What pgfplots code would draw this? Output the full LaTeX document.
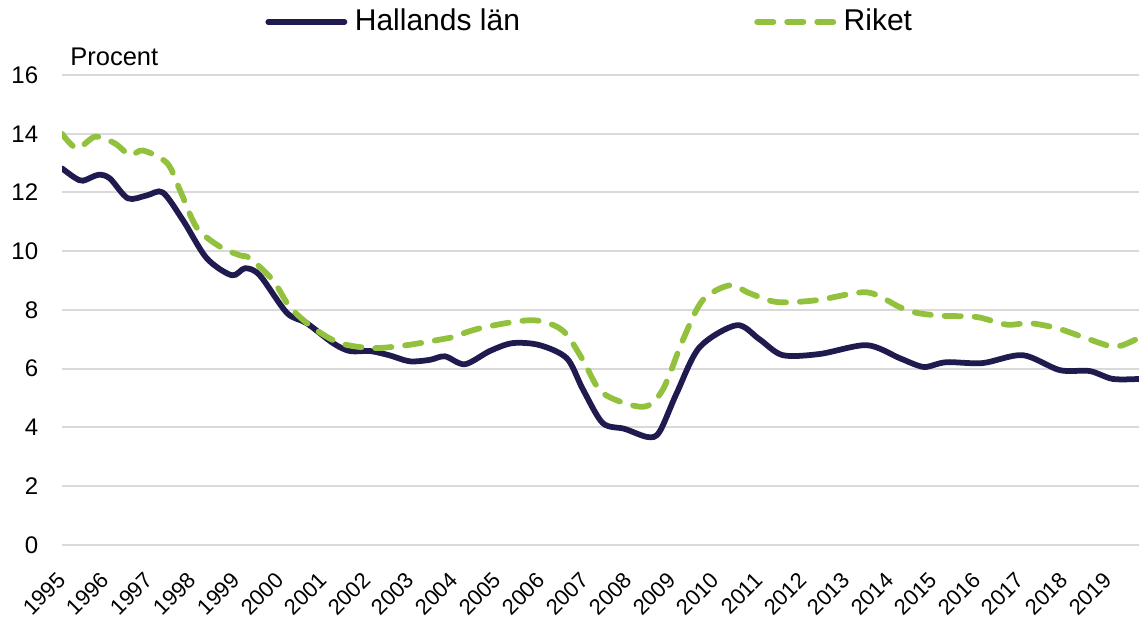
\documentclass[border=0pt]{standalone}
\usepackage{fontspec}
\setmainfont{Liberation Sans}
\usepackage{pgfplots}
\pgfplotsset{compat=1.18}
\definecolor{halland}{HTML}{1F1B4F}
\definecolor{riket}{HTML}{92C13E}
\definecolor{gridgray}{HTML}{D9D9D9}

\begin{document}
\begin{tikzpicture}
\begin{axis}[
  scale only axis,
  width=15.13cm,
  height=6.60cm,
  xmin=1995, xmax=2019.713,
  ymin=0, ymax=16,
  ytick={0,2,...,16},
  xtick={1995,...,2019},
  /pgf/number format/assume math mode=true,
  /pgf/number format/1000 sep={},
  xticklabel style={xshift=-2.4pt, yshift=-10.2pt, rotate=45, anchor=north east, font=\fontsize{8.8}{11}\selectfont, inner sep=0pt},
  yticklabel style={font=\fontsize{9.6}{12}\selectfont, xshift=-6pt},
  axis line style={draw=none},
  major tick length=0pt,
  ymajorgrids=true,
  grid style={gridgray, line width=0.8pt},
  legend columns=2,
  legend style={at={(0.5,1)}, anchor=center, xshift=-0.13cm, yshift=0.745cm,
    draw=none, fill=none, font=\fontsize{12}{14}\selectfont,
    /tikz/every odd column/.append style={column sep=1pt},
    /tikz/every even column/.append style={column sep=3.22cm}},
  legend image code/.code={\draw[#1] (0cm,0cm) -- (1.07cm,0cm);},
]
\coordinate (ll) at (rel axis cs:0,0);
\coordinate (ur) at (rel axis cs:1,1);

\addplot[halland, line width=2.3pt, smooth, tension=0.5, line cap=round] coordinates {
(1995.000,12.82) (1995.297,12.5) (1995.484,12.4) (1995.830,12.6) (1996.097,12.48)
(1996.512,11.8) (1996.947,11.9) (1997.313,12.0) (1997.778,11.05) (1998.321,9.76)
(1998.895,9.18) (1999.201,9.42) (1999.537,9.18) (2000.160,7.9) (2000.615,7.55)
(2001.218,6.87) (2001.603,6.6) (2002.068,6.6) (2002.523,6.45) (2002.977,6.25)
(2003.442,6.3) (2003.788,6.42) (2004.243,6.15) (2004.816,6.6) (2005.340,6.87)
(2005.963,6.8) (2006.586,6.35) (2006.951,5.3) (2007.406,4.15) (2007.910,3.95)
(2008.444,3.67) (2008.711,3.85) (2009.106,5.17) (2009.630,6.73) (2010.480,7.48)
(2011.004,7.0) (2011.538,6.46) (2012.388,6.5) (2013.466,6.8) (2014.217,6.36)
(2014.613,6.12) (2014.840,6.06) (2015.295,6.22) (2016.125,6.19) (2017.044,6.46)
(2017.894,5.95) (2018.577,5.92) (2019.110,5.65) (2019.713,5.65)
};
\addlegendentry{Hallands län}

\addplot[riket, line width=2.3pt, smooth, tension=0.5, line cap=round, dash pattern=on 6.5pt off 5.5pt] coordinates {
(1995.000,14.0) (1995.346,13.5) (1995.761,13.9) (1996.216,13.67) (1996.562,13.27)
(1996.858,13.43) (1997.412,13.0) (1997.709,12.07) (1998.094,10.8) (1998.628,10.15)
(1999.083,9.86) (1999.310,9.76) (1999.844,9.0) (2000.229,8.1) (2000.753,7.4)
(2001.376,6.87) (2002.137,6.7) (2002.908,6.8) (2003.600,6.97) (2003.897,7.05)
(2004.658,7.4) (2005.805,7.65) (2006.487,7.3) (2006.951,6.3) (2007.406,5.17)
(2008.325,4.7) (2008.780,5.27) (2009.245,6.97) (2009.700,8.33) (2010.322,8.84)
(2010.777,8.57) (2011.400,8.27) (2012.319,8.33) (2013.466,8.6) (2014.217,8.1)
(2014.613,7.9) (2015.206,7.8) (2015.986,7.76) (2016.679,7.5) (2017.203,7.55)
(2017.826,7.38) (2018.419,7.08) (2019.041,6.77) (2019.338,6.8) (2019.713,7.05)
};
\addlegendentry{Riket}
\end{axis}
\node[anchor=base west, font=\fontsize{10.2}{12}\selectfont, inner sep=0pt, xshift=0.11cm, yshift=0.14cm] at (ll |- ur) {Procent};
\pgfresetboundingbox
\path ([xshift=-0.871cm, yshift=-1.025cm]ll) rectangle ([yshift=1.054cm]ur);
\end{tikzpicture}
\end{document}
